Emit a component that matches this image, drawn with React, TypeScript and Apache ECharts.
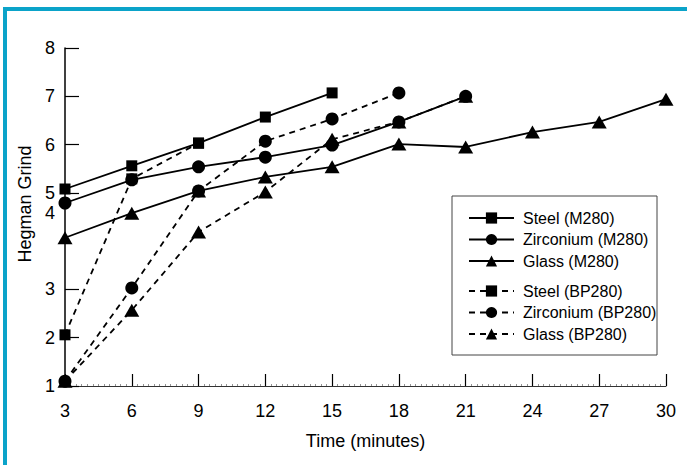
import React, { useEffect, useRef } from "react";
import * as echarts from "echarts";

const times = [3, 6, 9, 12, 15, 18, 21, 24, 27, 30];

const steelM280 = [5.08, 5.56, 6.03, 6.57, 7.07];
const zirconiumM280 = [4.79, 5.27, 5.54, 5.74, 5.99, 6.47, 7.0];
const glassM280 = [4.07, 4.58, 5.04, 5.33, 5.54, 6.01, 5.95, 6.26, 6.47, 6.94];
const steelBP280 = [2.06, 5.29, 6.03];
const zirconiumBP280 = [1.1, 3.03, 5.04, 6.07, 6.53, 7.07];
const glassBP280 = [1.1, 2.57, 4.19, 5.02, 6.11, 6.47, 7.0];

const yTickValues = [1, 2, 3, 5, 6, 7, 8];
const yLabelValues = [1, 2, 3, 4.58, 5, 6, 7, 8];
const yLabelTexts = ["1", "2", "3", "4", "5", "6", "7", "8"];

const seriesNamesM = ["Steel (M280)", "Zirconium (M280)", "Glass (M280)"];
const seriesNamesBP = ["Steel (BP280)", "Zirconium (BP280)", "Glass (BP280)"];

const FONT = "Liberation Sans, Arial, Helvetica, sans-serif";

function pairs(vals: number[]) {
  return vals.map((v, i) => [times[i], v]);
}

export default function App() {
  const ref = useRef<HTMLDivElement>(null);
  useEffect(() => {
    if (!ref.current) return;
    const chart = echarts.init(ref.current, undefined, { renderer: "svg" });
    const mk = (
      name: string,
      vals: number[],
      symbol: string,
      size: number | number[],
      dashed: boolean
    ) => ({
      name,
      type: "line",
      data: pairs(vals),
      symbol,
      symbolSize: size,
      showSymbol: true,
      itemStyle: { color: "#000" },
      lineStyle: {
        color: "#000",
        width: 1.8,
        type: dashed ? [6, 5] : "solid",
      },
      z: dashed ? 2 : 3,
    });
    const legendText = { fontSize: 16, color: "#000", fontFamily: FONT, padding: [0, 0, 0, 4], lineHeight: 16 };
    chart.setOption({
      animation: false,
      backgroundColor: "#fff",
      textStyle: { fontFamily: FONT, color: "#000" },
      grid: { left: 65, right: 21, top: 48, bottom: 79, containLabel: false },
      xAxis: {
        type: "value",
        min: 3,
        max: 30,
        interval: 3,
        name: "Time (minutes)",
        nameLocation: "middle",
        nameGap: 46,
        nameTextStyle: { fontSize: 18, color: "#000", fontFamily: FONT },
        axisLine: { show: true, lineStyle: { color: "#333", width: 1 } },
        axisTick: { show: true, inside: true, length: 12, lineStyle: { color: "#000", width: 1.2 } },
        minorTick: { show: true, splitNumber: 12, length: 2, lineStyle: { color: "#777", width: 0.8 } },
        axisLabel: { fontSize: 18, color: "#000", margin: 16, fontFamily: FONT },
        splitLine: { show: false },
      },
      yAxis: {
        type: "value",
        min: 1,
        max: 8,
        name: "Hegman Grind",
        nameLocation: "middle",
        nameGap: 26,
        nameRotate: 90,
        nameTextStyle: { fontSize: 18, color: "#000", fontFamily: FONT, padding: [0, 0, 0, 26] },
        axisLine: { show: true, lineStyle: { color: "#000", width: 1.5 } },
        axisTick: {
          show: true,
          inside: true,
          length: 14,
          customValues: yTickValues,
          lineStyle: { color: "#000", width: 1.2 },
        },
        axisLabel: {
          fontSize: 18,
          color: "#000",
          margin: 10,
          fontFamily: FONT,
          customValues: yLabelValues,
          formatter: (v: number) => {
            const i = yLabelValues.findIndex((x) => Math.abs(x - v) < 1e-6);
            return i >= 0 ? yLabelTexts[i] : "";
          },
        },
        splitLine: { show: false },
      },
      legend: [
        {
          orient: "vertical",
          left: 463,
          top: 205,
          itemWidth: 45,
          itemHeight: 14,
          itemGap: 5.5,
          data: seriesNamesM,
          textStyle: legendText,
        },
        {
          orient: "vertical",
          left: 463,
          top: 278,
          itemWidth: 45,
          itemHeight: 14,
          itemGap: 5.5,
          data: seriesNamesBP,
          textStyle: legendText,
        },
      ],
      graphic: [
        { type: "rect", shape: { x: 3, y: 7, width: 684, height: 4 }, style: { fill: "#0ba3c9" } },
        { type: "rect", shape: { x: 3, y: 7, width: 4, height: 458 }, style: { fill: "#0ba3c9" } },
        {
          type: "rect",
          shape: { x: 452, y: 196, width: 205, height: 159 },
          style: { fill: "none", stroke: "#444", lineWidth: 1 },
        },
      ],
      series: [
        mk(seriesNamesM[0], steelM280, "rect", 11, false),
        mk(seriesNamesM[1], zirconiumM280, "circle", 13, false),
        mk(seriesNamesM[2], glassM280, "triangle", [15, 13], false),
        mk(seriesNamesBP[0], steelBP280, "rect", 11, true),
        mk(seriesNamesBP[1], zirconiumBP280, "circle", 13, true),
        mk(seriesNamesBP[2], glassBP280, "triangle", [15, 13], true),
      ],
    });
    return () => chart.dispose();
  }, []);
  return (
    <div
      ref={ref}
      style={{ position: "absolute", left: 0, top: 0, width: 687, height: 465 }}
    />
  );
}
